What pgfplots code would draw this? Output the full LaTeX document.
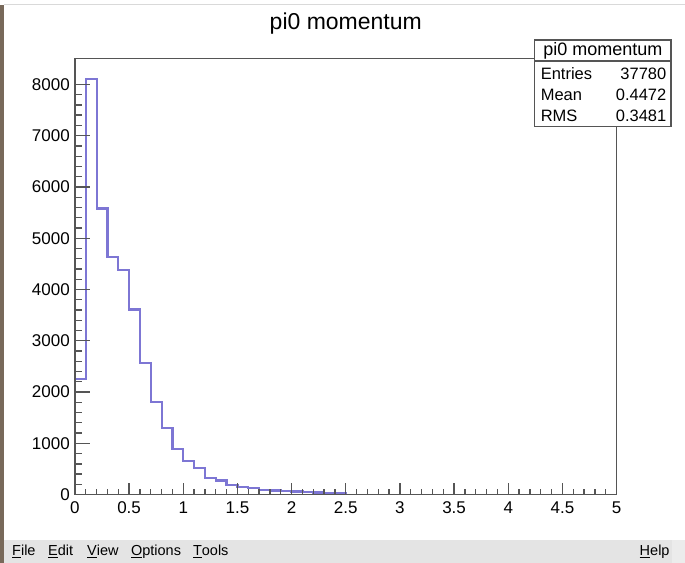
\documentclass[border=0pt]{standalone}
\usepackage{fontspec}
\setmainfont{Liberation Sans}
\usepackage{pgfplots}
\pgfplotsset{compat=1.18}
\definecolor{histc}{RGB}{125,118,212}
\definecolor{framec}{RGB}{85,85,85}
\definecolor{menuc}{RGB}{228,228,228}
\definecolor{bordc}{RGB}{120,105,90}
\begin{document}
\begin{tikzpicture}[x=1pt,y=1pt]
\fill[white] (0,0) rectangle (685,563);
% menu bar
\fill[menuc] (0,0) rectangle (685,23);
\fill[gray!15] (672,0) rectangle (685,23);
\draw[gray!30,line width=1pt] (4,558) -- (685,558);
\fill[bordc] (0,0) rectangle (4,558);
\begin{axis}[
  at={(75pt,68pt)}, anchor=south west,
  scale only axis, width=542pt, height=436.5pt,
  xmin=0, xmax=5, ymin=0, ymax=8505,
  axis line style={framec, line width=1.6pt},
  axis on top,
  tick align=inside,
  xtick pos=bottom, ytick pos=left,
  xtick={0,0.5,...,5}, xticklabels={0,0.5,1,1.5,2,2.5,3,3.5,4,4.5,5},
  ytick={0,1000,...,8000},
  minor x tick num=4, minor y tick num=4,
  xtick style={framec, line width=1.3pt, /pgfplots/major tick length=12pt, /pgfplots/minor tick length=6pt},
  ytick style={framec, line width=1.3pt, /pgfplots/major tick length=15pt, /pgfplots/minor tick length=7.5pt},
  every tick label/.append style={font=\fontsize{17}{17}\selectfont, inner sep=0pt},
  xticklabel style={yshift=-7pt},
  yticklabel style={xshift=-5pt},
  /pgf/number format/1000 sep={},
  /pgf/number format/assume math mode=true,
  clip=false,
]
\addplot[const plot mark left, histc, line width=2.2pt] coordinates {
(0,2250) (0.1,8100) (0.2,5580) (0.3,4640) (0.4,4385) (0.5,3610)
(0.6,2570) (0.7,1810) (0.8,1305) (0.9,890) (1.0,660) (1.1,525) (1.2,318)
(1.3,275) (1.4,185) (1.5,150) (1.6,128) (1.7,98) (1.8,80) (1.9,75)
(2.0,62) (2.1,55) (2.2,40) (2.3,32) (2.4,25) (2.5,0)
};
\end{axis}
% title
\node[anchor=base, font=\fontsize{23}{23}\selectfont] at (346,533) {pi0 momentum};
% stats box
\draw[framec, line width=1.5pt, fill=white] (535,436.3) rectangle (671.7,523);
\draw[framec, line width=1.5pt] (535,502) -- (671.7,502);
\node[anchor=base, font=\fontsize{18}{18}\selectfont] at (603.3,507) {pi0 momentum};
\begin{scope}[every node/.style={font=\fontsize{16.5}{16.5}\selectfont, inner sep=0pt}]
\node[anchor=base west] at (541,483) {Entries};
\node[anchor=base east] at (667,483) {37780};
\node[anchor=base west] at (541,462) {Mean};
\node[anchor=base east] at (667,462) {0.4472};
\node[anchor=base west] at (541,441) {RMS};
\node[anchor=base east] at (667,441) {0.3481};
\end{scope}
% menu
\begin{scope}[every node/.style={font=\fontsize{14.5}{14.5}\selectfont, inner sep=0pt, anchor=base west}]
\node at (12,7) {\underline{F}ile};
\node at (48,7) {\underline{E}dit};
\node at (87,7) {\underline{V}iew};
\node at (131,7) {\underline{O}ptions};
\node at (193,7) {\underline{T}ools};
\node at (640,7) {\underline{H}elp};
\end{scope}
\end{tikzpicture}
\end{document}
